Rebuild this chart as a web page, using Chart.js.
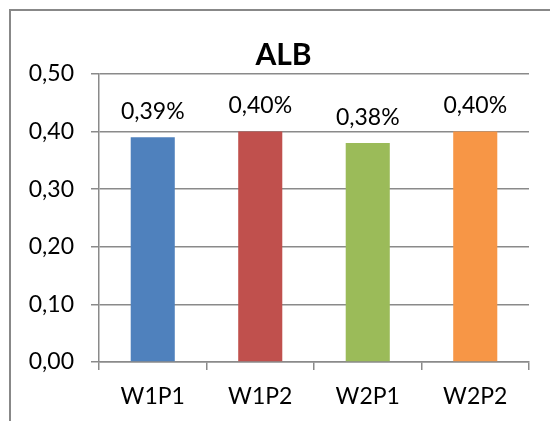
<!DOCTYPE html>
<html>
<head>
<meta charset="utf-8">
<title>ALB</title>
<script src="https://cdn.jsdelivr.net/npm/chart.js@4"></script>
<style>
  html, body { margin: 0; padding: 0; background: #fff; }
  #wrap { width: 550px; height: 421px; }
</style>
</head>
<body>
<div id="wrap"><canvas id="albChart" width="550" height="421"></canvas></div>
<script>
// Chart data
const categories = ["W1P1", "W1P2", "W2P1", "W2P2"];
const values = [0.39, 0.40, 0.38, 0.40];
const barColors = ["#4F81BD", "#C0504D", "#9BBB59", "#F79646"];
const yTicks = [0, 0.1, 0.2, 0.3, 0.4, 0.5];
const chartTitle = "ALB";

const fontFamily = "Lato, 'Open Sans', sans-serif";
const fontSize = 23;
const gridColor = "#8a8a8a";

// Format a number the Excel way with a decimal comma
function formatComma(v) {
  return v.toFixed(2).replace(".", ",");
}

// Outer frame + white background + title (centred on the frame, like Excel)
const framePlugin = {
  id: "frame",
  beforeDraw(chart) {
    const ctx = chart.ctx;
    ctx.save();
    ctx.fillStyle = "#ffffff";
    ctx.fillRect(0, 0, chart.width, chart.height);
    ctx.strokeStyle = "#888888";
    ctx.lineWidth = 2;
    ctx.beginPath();
    ctx.moveTo(10, chart.height);
    ctx.lineTo(10, 10);
    ctx.lineTo(chart.width, 10);
    ctx.stroke();
    ctx.restore();
  },
  afterDraw(chart) {
    const ctx = chart.ctx;
    ctx.save();
    ctx.font = "bold 30px " + fontFamily;
    ctx.fillStyle = "#000000";
    ctx.textAlign = "center";
    ctx.textBaseline = "middle";
    ctx.fillText(chartTitle, (chart.width + 17) / 2, 55);
    ctx.restore();
  },
};

// Value labels above each bar, e.g. "0,39%"
const valueLabelPlugin = {
  id: "valueLabels",
  afterDatasetsDraw(chart) {
    const ctx = chart.ctx;
    const meta = chart.getDatasetMeta(0);
    ctx.save();
    ctx.font = fontSize + "px " + fontFamily;
    ctx.fillStyle = "#000000";
    ctx.textAlign = "center";
    ctx.textBaseline = "middle";
    meta.data.forEach((bar, i) => {
      ctx.fillText(formatComma(values[i]) + "%", bar.x, bar.y - 26);
    });
    ctx.restore();
  },
};

new Chart(document.getElementById("albChart"), {
  type: "bar",
  data: {
    labels: categories,
    datasets: [
      {
        label: chartTitle,
        data: values,
        backgroundColor: barColors,
        borderWidth: 0,
        categoryPercentage: 0.82,
        barPercentage: 0.5,
      },
    ],
  },
  options: {
    responsive: false,
    animation: false,
    layout: {
      padding: { left: 17, right: 21, top: 74, bottom: 13 },
    },
    plugins: {
      legend: { display: false },
      tooltip: { enabled: false },
      title: { display: false },
    },
    scales: {
      x: {
        grid: {
          display: true,
          drawOnChartArea: false,
          drawTicks: true,
          tickLength: 8,
          color: gridColor,
          lineWidth: 1.5,
        },
        border: { display: true, color: gridColor, width: 1.5 },
        ticks: {
          color: "#000000",
          font: { family: fontFamily, size: fontSize },
          padding: 13,
        },
        afterFit(scale) {
          scale.height = 46;
        },
      },
      y: {
        min: 0,
        max: 0.5,
        afterBuildTicks(scale) {
          scale.ticks = yTicks.map((v) => ({ value: v }));
        },
        grid: {
          color: gridColor,
          lineWidth: 1.5,
          tickLength: 8,
        },
        border: { display: true, color: gridColor, width: 1.5 },
        ticks: {
          color: "#000000",
          font: { family: fontFamily, size: fontSize },
          padding: 17,
          callback: (v) => formatComma(v),
        },
        afterFit(scale) {
          scale.width = 82;
        },
      },
    },
  },
  plugins: [framePlugin, valueLabelPlugin],
});
</script>
</body>
</html>
